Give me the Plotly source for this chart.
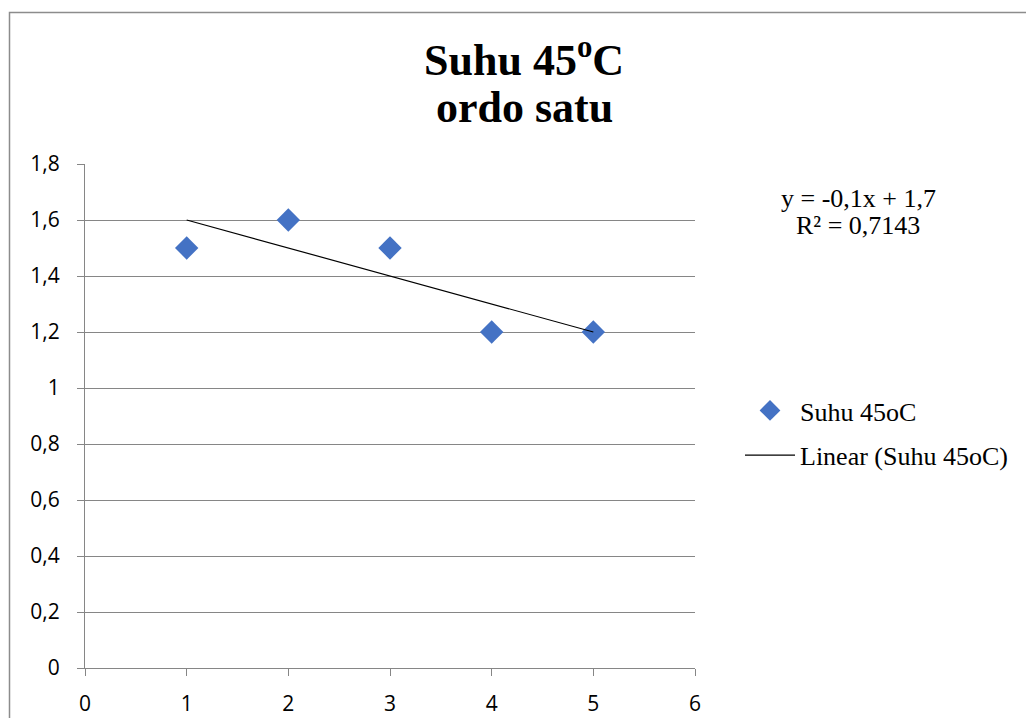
import numpy as np
import plotly.graph_objects as go

x_vals = [1, 2, 3, 4, 5]
y_vals = [1.5, 1.6, 1.5, 1.2, 1.2]
series_name = "Suhu 45oC"
trend_name = "Linear (Suhu 45oC)"
title_lines = ["<b>Suhu 45<sup>o</sup>C</b>", "<b>ordo satu</b>"]
x_ticks = [0, 1, 2, 3, 4, 5, 6]
y_ticks = [0, 0.2, 0.4, 0.6, 0.8, 1.0, 1.2, 1.4, 1.6, 1.8]

slope, intercept = np.polyfit(x_vals, y_vals, 1)
trend_x = [min(x_vals), max(x_vals)]
trend_y = [slope * v + intercept for v in trend_x]
pred = np.polyval([slope, intercept], x_vals)
ss_res = float(np.sum((np.array(y_vals) - pred) ** 2))
ss_tot = float(np.sum((np.array(y_vals) - np.mean(y_vals)) ** 2))
r2 = 1 - ss_res / ss_tot

def fmt(v, d):
    s = f"{v:.{d}f}".rstrip("0").rstrip(".")
    return s.replace(".", ",")

eq_lines = [f"y = {fmt(slope, 4)}x + {fmt(intercept, 4)}", f"R² = {fmt(r2, 4)}"]

OFF = 8  # page body margin
W, H = 1018, 710
L, T = 85 - OFF, 164 - OFF
R = W - (695 - OFF)
B = H - (668 - OFF)
pw, ph = W - L - R, H - T - B

def px(xs):
    return (xs - OFF - L) / pw

def py(ys):
    return (H - B - (ys - OFF)) / ph

serif = "Liberation Serif, Times New Roman, serif"
sans = "Open Sans, Calibri, sans-serif"

fig = go.Figure()
fig.add_trace(go.Scatter(
    x=x_vals, y=y_vals, mode="markers", name=series_name,
    marker=dict(symbol="diamond", size=18, color="#4472C4"),
    legendgroup="a",
))
fig.add_trace(go.Scatter(
    x=trend_x, y=trend_y, mode="lines", name=trend_name,
    line=dict(color="black", width=1.2),
    legendgroup="b",
))

annotations = []
for line, ys in zip(title_lines, [57, 108]):
    annotations.append(dict(
        text=line, x=px(524), y=py(ys), xref="paper", yref="paper",
        xanchor="center", yanchor="middle", showarrow=False,
        font=dict(family=serif, size=44, color="black"),
    ))
for line, ys in zip(eq_lines, [198, 225]):
    annotations.append(dict(
        text=line, x=px(858), y=py(ys), xref="paper", yref="paper",
        xanchor="center", yanchor="middle", showarrow=False,
        font=dict(family=serif, size=26, color="black"),
    ))

fig.update_layout(
    width=W, height=H, autosize=False,
    margin=dict(l=L, r=R, t=T, b=B, pad=0, autoexpand=False),
    paper_bgcolor="white", plot_bgcolor="white",
    separators=",.",
    showlegend=True,
    legend=dict(
        x=px(740), y=py(387), xanchor="left", yanchor="top",
        font=dict(family=serif, size=26, color="black"),
        bgcolor="rgba(0,0,0,0)", tracegroupgap=8, traceorder="grouped",
        itemwidth=50,
    ),
    xaxis=dict(
        range=[0, 6], tickvals=x_ticks, showgrid=False, zeroline=False,
        showline=True, linecolor="#868686", linewidth=1,
        ticks="outside", ticklen=7, tickcolor="#868686",
        ticklabelstandoff=10, automargin=False,
        tickfont=dict(family=sans, size=21, color="black"),
        fixedrange=True,
    ),
    yaxis=dict(
        range=[0, 1.8], tickvals=y_ticks, showgrid=True, gridcolor="#868686",
        gridwidth=1, zeroline=False,
        showline=True, linecolor="#868686", linewidth=1,
        ticks="outside", ticklen=7, tickcolor="#868686",
        ticklabelstandoff=13, automargin=False,
        tickfont=dict(family=sans, size=21, color="black"),
        fixedrange=True,
    ),
    annotations=annotations,
    shapes=[
        dict(
            type="rect", xref="paper", yref="paper",
            x0=px(9.5), x1=px(1100), y0=py(760), y1=py(12.5),
            line=dict(color="#8C8C8C", width=1.5), fillcolor="rgba(0,0,0,0)",
            layer="below",
        )
    ],
)

fig.write_html("out.html")
